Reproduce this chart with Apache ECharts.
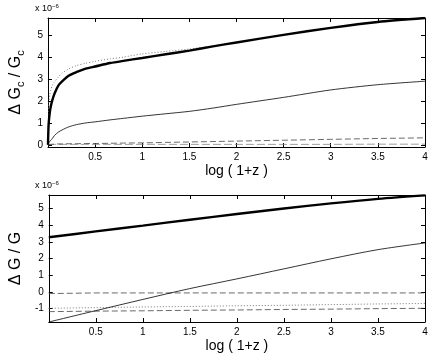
<!DOCTYPE html>
<html>
<head>
<meta charset="utf-8">
<script src="https://cdn.jsdelivr.net/npm/echarts@6/dist/echarts.min.js"></script>
<style>
  html, body { margin: 0; padding: 0; background: #fff; }
  #chart { width: 431px; height: 354px; }
</style>
</head>
<body>
<div id="chart"></div>
<script>
// top panel: dGc/Gc vs log(1+z)
var topX = [0, 0.005, 0.01, 0.02, 0.03, 0.045, 0.07, 0.11, 0.15, 0.22, 0.3, 0.4, 0.5, 0.66, 0.8, 1, 1.25, 1.5, 1.75, 2, 2.5, 3, 3.5, 4]
var topThick = [0, 0.75, 1.1, 1.5, 1.75, 2.02, 2.35, 2.71, 2.9, 3.16, 3.32, 3.48, 3.58, 3.74, 3.84, 3.97, 4.14, 4.31, 4.5, 4.68, 5.03, 5.35, 5.62, 5.8]
var topDotted = [0, 1.3, 1.9, 2.3, 2.5, 2.7, 2.88, 3.1, 3.28, 3.47, 3.62, 3.73, 3.82, 3.93, 4.01, 4.16, 4.27, 4.38, 4.52, 4.69, 5.04, 5.36, 5.63, 5.81]
var topThin = [0, 0.06, 0.1, 0.16, 0.21, 0.28, 0.43, 0.58, 0.68, 0.82, 0.92, 1.0, 1.05, 1.14, 1.21, 1.31, 1.42, 1.53, 1.68, 1.85, 2.17, 2.51, 2.75, 2.91]
var topDashed = [0, 0.01, 0.01, 0.02, 0.02, 0.03, 0.03, 0.04, 0.04, 0.05, 0.05, 0.06, 0.06, 0.07, 0.08, 0.09, 0.11, 0.13, 0.15, 0.17, 0.21, 0.25, 0.29, 0.32]
var topGrey = [0, 0.01, 0.01, 0.02, 0.02, 0.02, 0.02, 0.02, 0.02, 0.02, 0.02, 0.02, 0.02, 0.02, 0.02, 0.02, 0.02, 0.02, 0.02, 0.02, 0.02, 0.02, 0.03, 0.03]

// bottom panel: dG/G vs log(1+z)
var botX = [0, 0.5, 1, 1.5, 2, 2.5, 3, 3.5, 4]
var botThick = [3.27, 3.62, 3.97, 4.32, 4.66, 4.99, 5.3, 5.57, 5.78]
var botThin = [-1.8, -1.12, -0.45, 0.2, 0.78, 1.38, 1.98, 2.53, 2.93]
var botDashed = [-0.1, -0.06, -0.06, -0.06, -0.06, -0.06, -0.06, -0.06, -0.06]
var botDotted = [-0.98, -0.94, -0.9, -0.87, -0.83, -0.8, -0.76, -0.72, -0.69]
var botDashed2 = [-1.18, -1.15, -1.13, -1.1, -1.08, -1.05, -1.03, -1.0, -0.98]

var xTicks = [0.5, 1, 1.5, 2, 2.5, 3, 3.5, 4]
var topYTicks = [0, 1, 2, 3, 4, 5]
var botYTicks = [-1, 0, 1, 2, 3, 4, 5]

var font = 'Liberation Sans, Arial, sans-serif'

function pairs (xs, ys) {
  return xs.map(function (x, i) { return [x, ys[i]] })
}

function xAxisPair (gi) {
  return [{
    type: 'value', gridIndex: gi, min: 0, max: 4, position: 'bottom',
    name: 'log ( 1+z )', nameLocation: 'middle', nameGap: 17,
    nameTextStyle: { fontFamily: font, fontSize: 14, color: '#000' },
    axisLine: { onZero: false, lineStyle: { color: '#000', width: 1 } },
    axisTick: { inside: true, length: 4, customValues: xTicks, lineStyle: { color: '#000' } },
    axisLabel: { customValues: xTicks, fontFamily: font, fontSize: 10, color: '#000', margin: 5 },
    splitLine: { show: false }
  }, {
    type: 'value', gridIndex: gi, min: 0, max: 4, position: 'top',
    axisLine: { onZero: false, lineStyle: { color: '#000', width: 1 } },
    axisTick: { inside: true, length: 4, customValues: xTicks, lineStyle: { color: '#000' } },
    axisLabel: { show: false },
    splitLine: { show: false }
  }]
}

function yAxisPair (gi, min, max, ticks, name) {
  return [{
    type: 'value', gridIndex: gi, min: min, max: max, position: 'left',
    name: name, nameLocation: 'middle', nameGap: 15, nameRotate: 90,
    nameTextStyle: {
      fontFamily: font, fontSize: 16, color: '#000',
      rich: {
        a: { fontFamily: font, fontSize: 16, color: '#000' },
        s: { fontFamily: font, fontSize: 11, color: '#000', padding: [10, 0, 0, 0] }
      }
    },
    axisLine: { onZero: false, lineStyle: { color: '#000', width: 1 } },
    axisTick: { inside: true, length: 4, customValues: ticks, lineStyle: { color: '#000' } },
    axisLabel: { customValues: ticks, fontFamily: font, fontSize: 10, color: '#000', margin: 5 },
    splitLine: { show: false }
  }, {
    type: 'value', gridIndex: gi, min: min, max: max, position: 'right',
    axisLine: { onZero: false, lineStyle: { color: '#000', width: 1 } },
    axisTick: { inside: true, length: 4, customValues: ticks, lineStyle: { color: '#000' } },
    axisLabel: { show: false },
    splitLine: { show: false }
  }]
}

function line (xi, yi, data, style, smooth) {
  return {
    type: 'line', xAxisIndex: xi, yAxisIndex: yi, data: data,
    showSymbol: false, symbol: 'none', smooth: smooth,
    lineStyle: style, silent: true
  }
}

var thick = { color: '#000', width: 2.4 }
var thin = { color: '#000', width: 0.8 }
var dotted = { color: '#777', width: 1, type: [1, 2] }
var dashed = { color: '#444', width: 0.8, type: [6, 3] }
var dashedGrey = { color: '#888', width: 0.8, type: [8, 3] }

var option = {
  animation: false,
  backgroundColor: '#fff',
  grid: [
    { left: 36, top: 18, width: 389, height: 129 },
    { left: 36, top: 195, width: 389, height: 129 }
  ],
  xAxis: xAxisPair(0).concat(xAxisPair(1)),
  yAxis: yAxisPair(0, -0.1, 5.8, topYTicks, '{a|Δ G}{s|c}{a| / G}{s|c}')
    .concat(yAxisPair(1, -1.8, 5.8, botYTicks, '{a|Δ G / G}')),
  graphic: [
    { type: 'text', left: 35, top: 3, style: { rich: { a: { fontFamily: font, fontSize: 9, fill: '#000', padding: [5, 0, 0, 0] }, b: { fontFamily: font, fontSize: 6, fill: '#000' } }, text: '{a|x 10}{b|−6}' } },
    { type: 'text', left: 35, top: 180, style: { rich: { a: { fontFamily: font, fontSize: 9, fill: '#000', padding: [5, 0, 0, 0] }, b: { fontFamily: font, fontSize: 6, fill: '#000' } }, text: '{a|x 10}{b|−6}' } }
  ],
  series: [
    line(0, 0, pairs(topX, topGrey), dashedGrey, false),
    line(0, 0, pairs(topX, topDashed), dashed, false),
    line(0, 0, pairs(topX, topThin), thin, 0.25),
    line(0, 0, pairs(topX, topDotted), dotted, 0.25),
    line(0, 0, pairs(topX, topThick), thick, 0.25),
    line(2, 2, pairs(botX, botDashed), dashed, false),
    line(2, 2, pairs(botX, botDotted), dotted, false),
    line(2, 2, pairs(botX, botDashed2), dashed, false),
    line(2, 2, pairs(botX, botThin), thin, 0.3),
    line(2, 2, pairs(botX, botThick), thick, 0.3)
  ]
}

var myChart = echarts.init(document.getElementById('chart'), null, { renderer: 'canvas' })
myChart.setOption(option)
</script>
</body>
</html>
